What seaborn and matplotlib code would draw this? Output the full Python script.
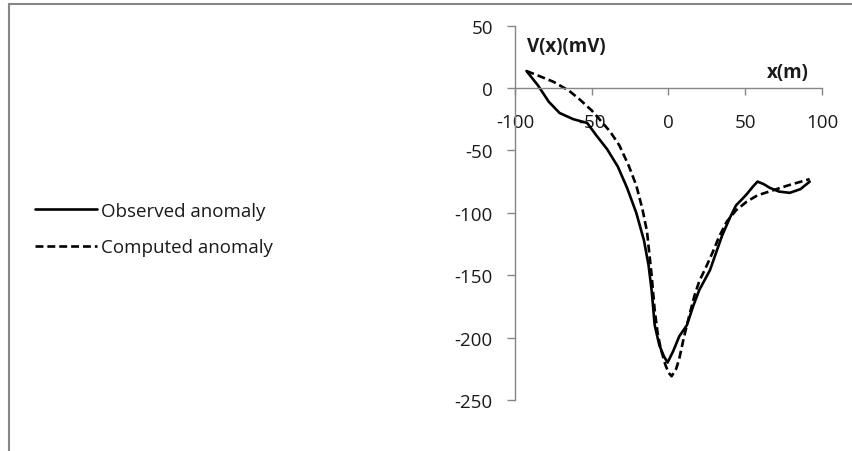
import numpy as np
import pandas as pd
import matplotlib
matplotlib.use("Agg")
import matplotlib.pyplot as plt
import seaborn as sns
from matplotlib.lines import Line2D

obs_x = [-92.5, -85, -78, -71, -62, -53, -47, -40, -33, -27, -21, -16, -13, -11, -9, -6, -3, -0.6, 3, 7, 12, 16, 20, 27, 31, 35, 40, 44, 48, 51, 55, 58, 62, 66, 72, 79, 86, 92]
obs_y = [13.6, 2, -11, -20, -25, -28, -38, -49, -63, -80, -100, -122, -142, -162, -190, -206, -215, -220, -211, -199, -190, -175, -162, -146, -132, -118, -104, -94, -89, -85, -79, -75, -77, -80, -83, -84, -81, -75]

com_x = [-92.5, -85, -75, -65, -58, -50, -45, -38, -32, -26, -21, -17, -14, -11, -9, -7, -5, -2, 0, 2, 5, 7, 10, 14, 17, 20, 25, 29, 33, 38, 44, 51, 58, 68, 78, 92]
com_y = [13.6, 10, 5, -2, -9, -18, -25, -35, -46, -62, -78, -97, -115, -150, -178, -197, -209, -222, -228, -231, -225, -217, -200, -180, -166, -155, -142, -131, -119, -107, -98, -91, -86, -82, -78, -73]

x_ticks = [-100, -50, 0, 50, 100]
y_ticks = [50, 0, -50, -100, -150, -200, -250]

df = pd.concat([
    pd.DataFrame({"x": obs_x, "V": obs_y, "series": "Observed anomaly"}),
    pd.DataFrame({"x": com_x, "V": com_y, "series": "Computed anomaly"}),
], ignore_index=True)

sns.set_theme(style="white")
plt.rcParams['font.family'] = ['Open Sans', 'DejaVu Sans']
plt.rcParams['axes.unicode_minus'] = False

FS = 13.5
TXT = "#1a1a1a"
DASH = (3.0, 1.5)

fig = plt.figure(figsize=(8.53, 4.52), dpi=100)
ax = fig.add_axes([515/853, 1-401/452, (822-515)/853, (401-26.6)/452])

sns.lineplot(data=df, x="x", y="V", hue="series", style="series",
             palette={"Observed anomaly": "black", "Computed anomaly": "black"},
             dashes={"Observed anomaly": "", "Computed anomaly": DASH},
             linewidth=1.9, sort=False, estimator=None, ax=ax, legend=False)

ax.set_xlim(-100, 100)
ax.set_ylim(-250, 50)
ax.set_xticks(x_ticks)
ax.set_yticks(y_ticks)
ax.set_xlabel("")
ax.set_ylabel("")
for s in ["top", "right"]:
    ax.spines[s].set_visible(False)
ax.spines["bottom"].set_position(("data", 0))
for s in ["left", "bottom"]:
    ax.spines[s].set_color("#868686")
    ax.spines[s].set_linewidth(1.0)
ax.tick_params(axis="both", which="both", direction="out", width=1.0,
               color="#868686", labelsize=FS, labelcolor=TXT)
ax.tick_params(axis="x", bottom=True, length=5, pad=13)
ax.tick_params(axis="y", left=True, length=6, pad=10)

fig.text(767/853, 1-73/452, "x(m)", fontsize=FS, fontweight="bold", va="center", ha="left", color=TXT)
fig.text(527/853, 1-47/452, "V(x)(mV)", fontsize=FS, fontweight="bold", va="center", ha="left", color=TXT)

handles = [Line2D([], [], color="black", lw=1.9),
           Line2D([], [], color="black", lw=1.9, dashes=DASH)]
fig.legend(handles, ["Observed anomaly", "Computed anomaly"], loc="center left",
           bbox_to_anchor=(18/853, 1-230/452), frameon=False, fontsize=FS,
           handlelength=3.3, handletextpad=0.25, labelspacing=1.0,
           labelcolor=TXT)

fig.add_artist(Line2D([8.5/853, 8.5/853], [0, 1-4.5/452], transform=fig.transFigure, color="#868686", lw=1.5))
fig.add_artist(Line2D([8.5/853, 1], [1-4.5/452, 1-4.5/452], transform=fig.transFigure, color="#868686", lw=1.5))

fig.savefig("out.png", dpi=100)
